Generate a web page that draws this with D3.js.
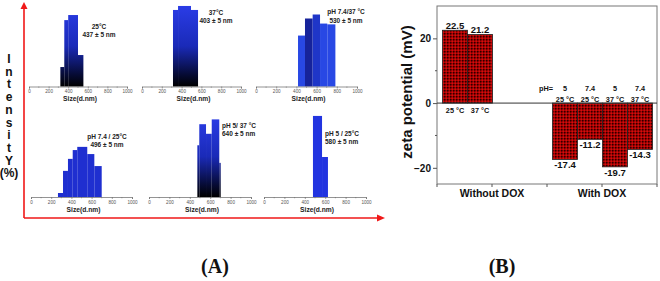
<!DOCTYPE html>
<html>
<head>
<meta charset="utf-8">
<script src="https://cdn.jsdelivr.net/npm/d3@7"></script>
<style>
  body { margin: 0; background: #fff; }
  svg { display: block; font-family: "Liberation Sans", Arial, sans-serif; }
</style>
</head>
<body>
<div id="chart"></div>
<script>
// (A) DLS size distributions: bin edges in nm, intensity in %
var sizeTicks = [0, 200, 400, 600, 800, 1000];
var minorTicks = [100, 300, 500, 700, 900];

var edges25 = [320, 360, 400, 500, 555];
var vals25 = [7.3, 24.9, 26.8, 11.8];

var edges37 = [313, 364, 495, 566];
var vals37 = [28.7, 30.2, 28.7];

var edgesPh74_37 = [416, 485, 561, 634, 706, 786];
var valsPh74_37 = [19.1, 25.5, 27.0, 23.6, 23.3];

var edgesPh74_25 = [267, 317, 366, 413, 458, 557, 627, 700];
var valsPh74_25 = [1.5, 9.8, 14.3, 17.6, 18.8, 16.1, 11.6];

var edgesPh5_37 = [474, 493, 559, 615, 689, 703];
var valsPh5_37 = [19.4, 27.3, 23.7, 29.1, 12.8];

var edgesPh5_25 = [480, 569, 627];
var valsPh5_25 = [30.4, 15.0];

// (B) zeta potential
var zetaGroups = ["Without DOX", "With DOX"];
var zetaGroupOf = [0, 0, 1, 1, 1, 1];
var zetaSlot = [0, 1, 0, 1, 2, 3];
var zetaValues = [22.5, 21.2, -17.4, -11.2, -19.7, -14.3];
var zetaTemp = ["25 °C", "37 °C", "25 °C", "25 °C", "37 °C", "37 °C"];
var zetaPH = ["", "", "5", "7.4", "5", "7.4"];
var zetaTicks = [-20, 0, 20];
var zetaMinor = [-10, 10];

var W = 660, H = 281;
var svg = d3.select("#chart").append("svg")
    .attr("width", W)
    .attr("height", H);

svg.append("rect").attr("width", W).attr("height", H).attr("fill", "#fff");

var defs = svg.append("defs");

// blue to black gradients for the DLS bars
function addGradient(id, y1, y2) {
    var g = defs.append("linearGradient")
        .attr("id", id)
        .attr("gradientUnits", "userSpaceOnUse")
        .attr("x1", 0).attr("x2", 0)
        .attr("y1", y1).attr("y2", y2);
    g.append("stop").attr("offset", "0%").attr("stop-color", "#2a3ce6");
    g.append("stop").attr("offset", "50%").attr("stop-color", "#1a2ab8");
    g.append("stop").attr("offset", "85%").attr("stop-color", "#060b35");
    g.append("stop").attr("offset", "100%").attr("stop-color", "#000");
}
addGradient("gradTop", 6, 86.5);
addGradient("gradBot", 116, 197);

// checkered red pattern for zeta bars
var pat = defs.append("pattern")
    .attr("id", "redCheck")
    .attr("patternUnits", "userSpaceOnUse")
    .attr("width", 3).attr("height", 3);
pat.append("rect").attr("width", 3).attr("height", 3).attr("fill", "#a80000");
pat.append("rect").attr("width", 1.5).attr("height", 1.5).attr("fill", "#2a0000");
pat.append("rect").attr("x", 1.5).attr("y", 1.5).attr("width", 1.5).attr("height", 1.5).attr("fill", "#d01010");

// ---------- Panel A ----------
var hScale = d3.scaleLinear().domain([0, 30]).range([0, 80]);

var panels = [
    { edges: edges25, vals: vals25, x0: 29, x1: 127, y: 86.5, fill: () => "url(#gradTop)",
      lines: ["25°C", "437 ± 5 nm"], lx: 99, ly: [28.5, 36.5], anchor: "middle" },
    { edges: edges37, vals: vals37, x0: 142, x1: 241, y: 86.5, fill: () => "url(#gradTop)",
      lines: ["37°C", "403 ± 5 nm"], lx: 216, ly: [15, 23], anchor: "middle" },
    { edges: edgesPh74_37, vals: valsPh74_37, x0: 256, x1: 357, y: 86.5,
      fill: i => i === 1 ? "#16239a" : (i === 2 ? "#1f36c8" : "#2848e4"),
      lines: ["pH 7.4/37 °C", "530 ± 5 nm"], lx: 346, ly: [14, 22.5], anchor: "middle" },
    { edges: edgesPh74_25, vals: valsPh74_25, x0: 31, x1: 132, y: 197, fill: () => "#1f2fd0",
      lines: ["pH 7.4 / 25°C", "496 ± 5 nm"], lx: 107, ly: [138.5, 146.5], anchor: "middle" },
    { edges: edgesPh5_37, vals: valsPh5_37, x0: 149, x1: 251, y: 197, fill: () => "url(#gradBot)",
      lines: ["pH 5/ 37 °C", "640 ± 5 nm"], lx: 222, ly: [128, 136], anchor: "start" },
    { edges: edgesPh5_25, vals: valsPh5_25, x0: 264, x1: 366, y: 197, fill: () => "#2234e0",
      lines: ["pH 5 / 25°C", "580 ± 5 nm"], lx: 325, ly: [135.5, 144], anchor: "start" }
];

panels.forEach(function (p) {
    var x = d3.scaleLinear().domain([0, 1000]).range([p.x0, p.x1]);
    var g = svg.append("g");

    var bins = p.vals.map((v, i) => ({ lo: p.edges[i], hi: p.edges[i + 1], v: v, i: i }));

    g.selectAll("rect.bin")
        .data(bins)
        .enter().append("rect")
        .attr("class", "bin")
        .attr("x", d => x(d.lo))
        .attr("width", d => x(d.hi) - x(d.lo))
        .attr("y", d => p.y - hScale(d.v))
        .attr("height", d => hScale(d.v))
        .attr("fill", d => p.fill(d.i));

    // x axis
    var ax = g.append("g")
        .attr("transform", `translate(0,${p.y})`)
        .call(d3.axisBottom(x).tickValues(sizeTicks).tickFormat(d3.format("d"))
            .tickSize(2).tickPadding(1.5));
    ax.select(".domain").attr("stroke", "#666").attr("stroke-width", 0.7);
    ax.selectAll(".tick line").attr("stroke", "#666").attr("stroke-width", 0.6);
    ax.selectAll("text").attr("font-size", 4.6).attr("fill", "#555");

    g.selectAll("line.minor")
        .data(minorTicks)
        .enter().append("line")
        .attr("x1", d => x(d)).attr("x2", d => x(d))
        .attr("y1", p.y).attr("y2", p.y + 1.3)
        .attr("stroke", "#666").attr("stroke-width", 0.5);

    g.append("text")
        .attr("x", x(500) + 2)
        .attr("y", p.y + 14.5)
        .attr("text-anchor", "middle")
        .attr("font-size", 6.7)
        .attr("font-weight", "bold")
        .attr("fill", "#222")
        .text("Size(d.nm)");

    p.lines.forEach(function (t, k) {
        g.append("text")
            .attr("x", p.lx)
            .attr("y", p.ly[k])
            .attr("text-anchor", p.anchor)
            .attr("font-size", 6.5)
            .attr("font-weight", "bold")
            .attr("fill", "#222")
            .text(t);
    });
});

// red arrows
var red = "#f01818";
svg.append("path")
    .attr("d", "M24,218 L24,8 M24,218 L378,218")
    .attr("stroke", red).attr("stroke-width", 1.6).attr("fill", "none");
svg.append("path").attr("d", "M24,2 L20.5,9 L27.5,9 Z").attr("fill", red);
svg.append("path").attr("d", "M385,218 L377,214.5 L377,221.5 Z").attr("fill", red);

// Intensity (%) letters
var letters = ["I", "n", "t", "e", "n", "s", "i", "t", "Y", "(%)"];
svg.append("g").selectAll("text")
    .data(letters)
    .enter().append("text")
    .attr("x", 9)
    .attr("y", (d, i) => 63 + i * 12.7)
    .attr("text-anchor", "middle")
    .attr("font-size", 12)
    .attr("font-weight", "bold")
    .attr("fill", "#111")
    .text(d => d);

// ---------- Panel B ----------
var xg = d3.scaleBand().domain(zetaGroups).range([437, 657]);
var xs = d3.scaleBand().domain([0, 1, 2, 3]).range([5.5, 105.5]);
var y = d3.scaleLinear().domain([-25, 30]).range([184, 6]);

var gb = svg.append("g");

var bars = zetaValues.map((v, i) => ({
    v: v, x: xg(zetaGroups[zetaGroupOf[i]]) + xs(zetaSlot[i]),
    t: zetaTemp[i], ph: zetaPH[i]
}));

gb.selectAll("rect.zeta")
    .data(bars)
    .enter().append("rect")
    .attr("class", "zeta")
    .attr("x", d => d.x)
    .attr("width", xs.bandwidth())
    .attr("y", d => y(Math.max(0, d.v)))
    .attr("height", d => Math.abs(y(d.v) - y(0)))
    .attr("fill", "url(#redCheck)")
    .attr("stroke", "#222")
    .attr("stroke-width", 0.8);

// frame
gb.append("rect")
    .attr("x", 437).attr("y", 6)
    .attr("width", 220).attr("height", 178)
    .attr("fill", "none").attr("stroke", "#777").attr("stroke-width", 1);

// zero line
gb.append("line")
    .attr("x1", 437).attr("x2", 657)
    .attr("y1", y(0)).attr("y2", y(0))
    .attr("stroke", "#333").attr("stroke-width", 1);

// y axis
var ya = gb.append("g")
    .attr("transform", "translate(437,0)")
    .call(d3.axisLeft(y).tickValues(zetaTicks).tickSize(4).tickPadding(2));
ya.select(".domain").remove();
ya.selectAll(".tick line").attr("stroke", "#555");
ya.selectAll("text").attr("font-size", 10).attr("font-weight", "bold").attr("fill", "#111");

gb.selectAll("line.yminor")
    .data(zetaMinor)
    .enter().append("line")
    .attr("x1", 435).attr("x2", 437)
    .attr("y1", d => y(d)).attr("y2", d => y(d))
    .attr("stroke", "#555");

// x axis ticks at group centres and boundaries
var xTickPos = [437, 547, 657].concat(zetaGroups.map(g => xg(g) + xg.bandwidth() / 2));
gb.selectAll("line.xt")
    .data(xTickPos)
    .enter().append("line")
    .attr("x1", d => d).attr("x2", d => d)
    .attr("y1", 184).attr("y2", 187)
    .attr("stroke", "#555");

gb.selectAll("text.grp")
    .data(zetaGroups)
    .enter().append("text")
    .attr("x", d => xg(d) + xg.bandwidth() / 2)
    .attr("y", 197)
    .attr("text-anchor", "middle")
    .attr("font-size", 10.5)
    .attr("font-weight", "bold")
    .attr("fill", "#111")
    .text(d => d);

// value labels
gb.selectAll("text.val")
    .data(bars)
    .enter().append("text")
    .attr("x", d => d.x + xs.bandwidth() / 2)
    .attr("y", d => d.v > 0 ? y(d.v) - 1 : y(d.v) + 9)
    .attr("text-anchor", "middle")
    .attr("font-size", 9.5)
    .attr("font-weight", "bold")
    .attr("fill", "#111")
    .text(d => d.v.toFixed(1));

// temperature labels
gb.selectAll("text.temp")
    .data(bars)
    .enter().append("text")
    .attr("x", d => d.x + xs.bandwidth() / 2)
    .attr("y", d => d.v > 0 ? 112.5 : 101.5)
    .attr("text-anchor", "middle")
    .attr("font-size", 7.3)
    .attr("font-weight", "bold")
    .attr("fill", "#111")
    .text(d => d.t);

// pH labels
gb.selectAll("text.ph")
    .data(bars.filter(d => d.ph))
    .enter().append("text")
    .attr("x", d => d.x + xs.bandwidth() / 2)
    .attr("y", 90.5)
    .attr("text-anchor", "middle")
    .attr("font-size", 7.3)
    .attr("font-weight", "bold")
    .attr("fill", "#111")
    .text(d => d.ph);

gb.append("text")
    .attr("x", 539).attr("y", 90.5)
    .attr("font-size", 7.3)
    .attr("font-weight", "bold")
    .attr("fill", "#111")
    .text("pH=");

// y label
gb.append("text")
    .attr("transform", "translate(412,92) rotate(-90)")
    .attr("text-anchor", "middle")
    .attr("font-size", 15)
    .attr("font-weight", "bold")
    .attr("fill", "#111")
    .text("zeta potential (mV)");

// panel letters
[["(A)", 215], ["(B)", 502]].forEach(function (d) {
    svg.append("text")
        .attr("x", d[1]).attr("y", 273)
        .attr("text-anchor", "middle")
        .attr("font-family", "'Liberation Serif', 'Times New Roman', serif")
        .attr("font-size", 20)
        .attr("font-weight", "bold")
        .attr("fill", "#111")
        .text(d[0]);
});
</script>
</body>
</html>
